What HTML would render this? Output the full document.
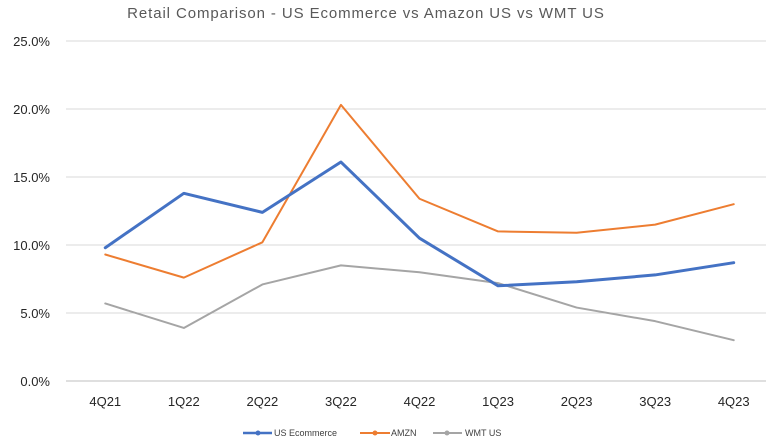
<!DOCTYPE html>
<html><head><meta charset="utf-8"><style>
body{margin:0;background:#fff;}
svg{display:block;font-family:"Liberation Sans",sans-serif;}
</style></head><body>
<svg id="chart" width="766" height="444">
<text x="366" y="18" text-anchor="middle" font-size="15" letter-spacing="0.9" fill="#595959">Retail Comparison - US Ecommerce vs Amazon US vs WMT US</text>
<g id="grid"></g><g id="series"></g>
<g>
<g><line x1="243" y1="433" x2="272" y2="433" stroke="#4472C4" stroke-width="2.5"/><circle cx="258" cy="433" r="2.5" fill="#4472C4"/><text x="274" y="436" font-size="9" fill="#404040">US Ecommerce</text></g>
<g><line x1="360" y1="433" x2="390" y2="433" stroke="#ED7D31" stroke-width="2"/><circle cx="375" cy="433" r="2.5" fill="#ED7D31"/><text x="391" y="436" font-size="9" fill="#404040">AMZN</text></g>
<g><line x1="433" y1="433" x2="462" y2="433" stroke="#A5A5A5" stroke-width="2"/><circle cx="447" cy="433" r="2.5" fill="#A5A5A5"/><text x="465" y="436" font-size="9" fill="#404040">WMT US</text></g>
</g>
</svg>
<script>
const categories=["4Q21","1Q22","2Q22","3Q22","4Q22","1Q23","2Q23","3Q23","4Q23"];
const usEcom=[9.8,13.8,12.4,16.1,10.5,7.0,7.3,7.8,8.7];
const amzn=[9.3,7.6,10.2,20.3,13.4,11.0,10.9,11.5,13.0];
const wmt=[5.7,3.9,7.1,8.5,8.0,7.2,5.4,4.4,3.0];
const yTicks=[0,5,10,15,20,25];
const NS="http://www.w3.org/2000/svg";
const left=66,right=773,y0=381,yTop=41,yMax=25;
const band=(right-left)/categories.length;
const xs=i=>left+band*(i+0.5);
const ys=v=>y0-(v/yMax)*(y0-yTop);
const grid=document.getElementById('grid'),ser=document.getElementById('series');
function mk(t,a,p){const e=document.createElementNS(NS,t);for(const k in a)e.setAttribute(k,a[k]);p.appendChild(e);return e;}
yTicks.forEach(v=>{
 const l=mk('line',{x1:left,x2:766,y1:ys(v),y2:ys(v),stroke:v===0?'#BFBFBF':'#D9D9D9','stroke-width':1},grid);
 
 
 const t=mk('text',{x:50,y:ys(v)+5,'text-anchor':'end','font-size':13,fill:'#262626'},grid);
 t.textContent=v.toFixed(1)+'%';
 
 
});
categories.forEach((c,i)=>{
 const t=mk('text',{x:xs(i),y:406,'text-anchor':'middle','font-size':13,fill:'#262626'},grid);
 t.textContent=c;
 
 
});
[[wmt,'#A5A5A5',2,'wmt-us-line'],[amzn,'#ED7D31',2,'amzn-line'],[usEcom,'#4472C4',3,'us-ecommerce-line']].forEach(([d,col,w,n])=>{
 const p=mk('polyline',{points:d.map((v,i)=>xs(i)+','+ys(v)).join(' '),fill:'none',stroke:col,'stroke-width':w,'stroke-linejoin':'round','stroke-linecap':'round'},ser);
 
 
});
</script>
</body></html>
